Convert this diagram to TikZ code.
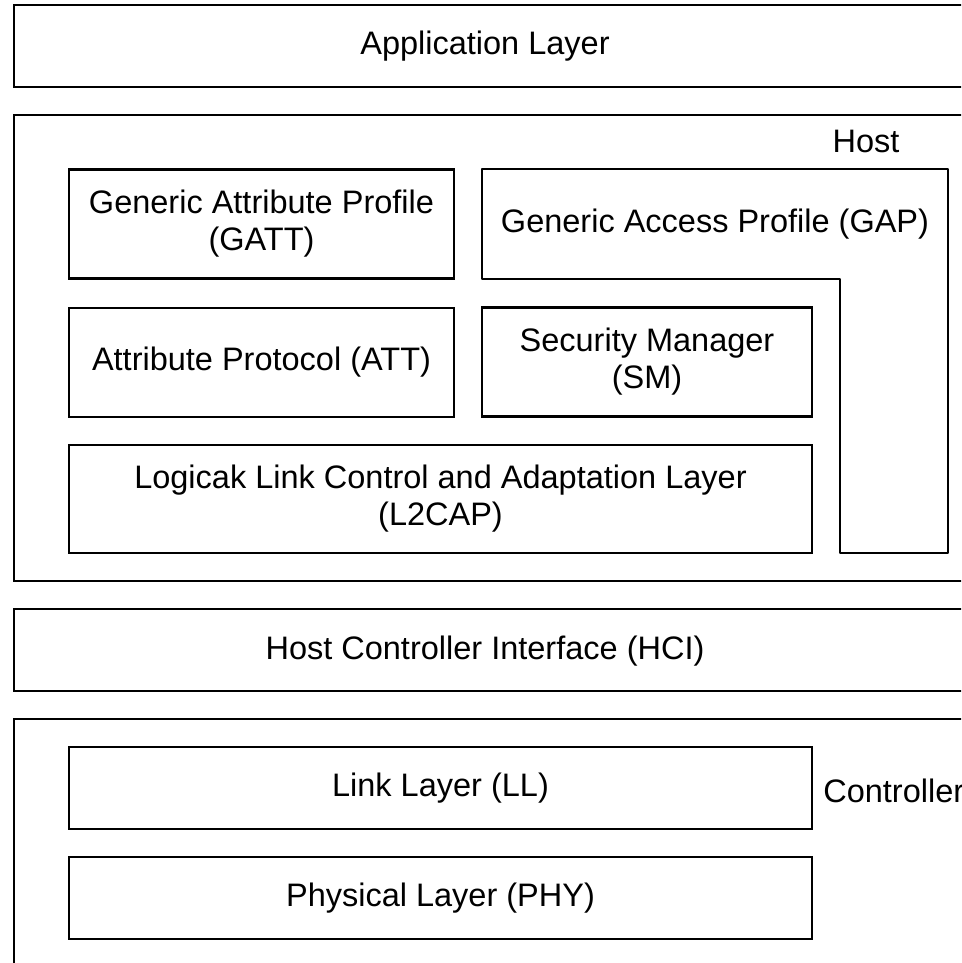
\documentclass[tikz,border=0pt]{standalone}
\usepackage{fontspec}
\setmainfont{Liberation Sans}
\begin{document}
\begin{tikzpicture}[x=1pt, y=-1pt, line width=2.6pt,
    box/.style={draw, black, rectangle, inner sep=0pt, align=center,
        font=\fontsize{32.5}{37}\selectfont},
    txt/.style={inner sep=0pt, align=center, font=\fontsize{32.5}{37}\selectfont}]
    \useasboundingbox (0,0) rectangle (961,963);
    \clip (0,0) rectangle (961,963);
    \draw (14,5) rectangle (990,87)
       (14,115) rectangle (990,581)
       (14,609) rectangle (990,691)
       (14,719) rectangle (990,990);
    \draw (485,46) node[txt](app){Application Layer}
       (866,141) node[txt](host){Host}
       (485,651) node[txt](hci){Host Controller Interface (HCI)}
       (822,791) node[txt, anchor=west](ctrl){Controller};

    \draw (261.5,224) node[box, minimum width=385, minimum height=109](gatt){Generic Attribute Profile\\(GATT)}
       (261.5,362.5) node[box, minimum width=385, minimum height=109](att){Attribute Protocol (ATT)}
       (647,362) node[box, minimum width=330, minimum height=109](sm){Security Manager\\(SM)}
       (440.5,499) node[box, minimum width=743, minimum height=108](l2cap){Logicak Link Control and Adaptation Layer\\(L2CAP)}
       (440.5,788) node[box, minimum width=743, minimum height=82](ll){Link Layer (LL)}
       (440.5,898) node[box, minimum width=743, minimum height=82](phy){Physical Layer (PHY)};

    \draw[line join=round] (482,169) -- (948,169) -- (948,553) -- (840,553) -- (840,279) -- (482,279) -- cycle;
    \draw (715,224) node[txt](gap){Generic Access Profile (GAP)};
\end{tikzpicture}
\end{document}
